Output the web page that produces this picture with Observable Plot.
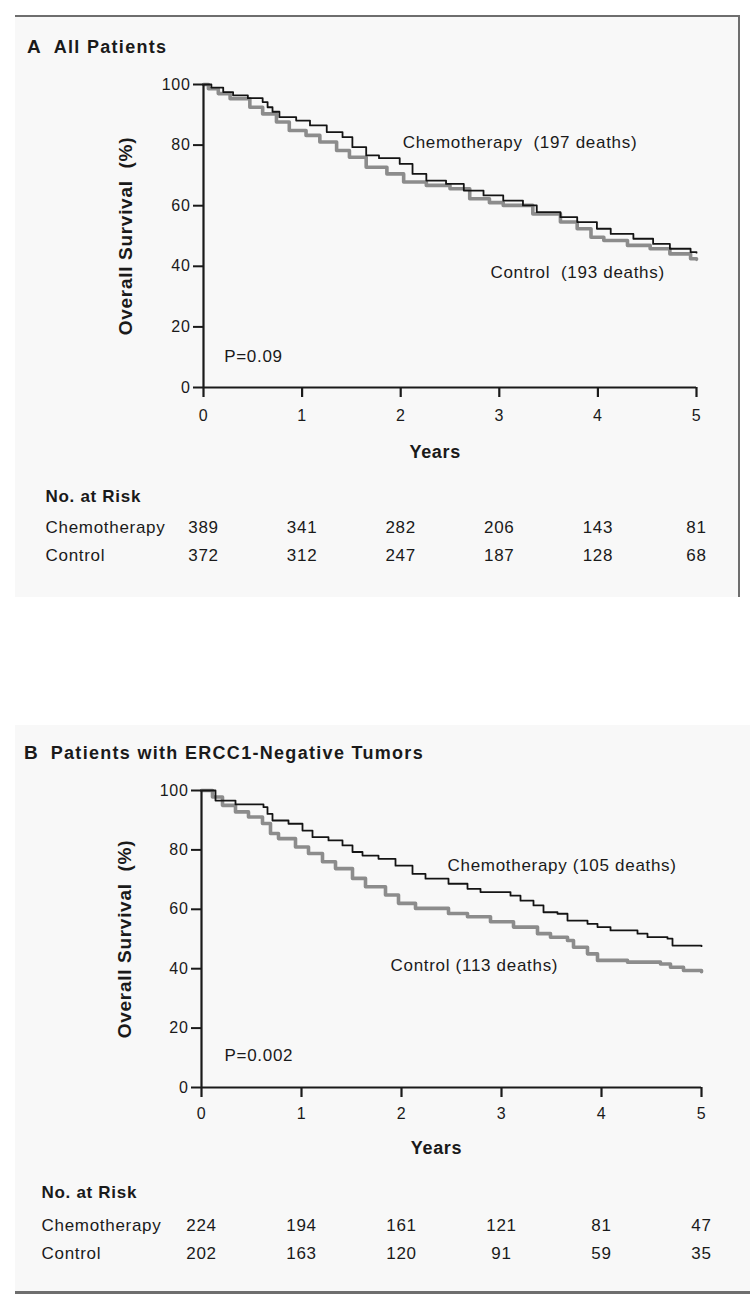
<!DOCTYPE html>
<html>
<head>
<meta charset="utf-8">
<script src="https://cdn.jsdelivr.net/npm/d3@7"></script>
<script src="https://cdn.jsdelivr.net/npm/@observablehq/plot@0.6"></script>
<style>
  body { margin: 0; background: #ffffff; font-family: "Liberation Sans", Arial, sans-serif; color: #1a1a1a; }
  #page { position: relative; width: 750px; height: 1307px; overflow: hidden; }
  .panel { position: absolute; background: #f8f8f8; }
  #panelA { left: 15px; top: 15px; width: 723px; height: 580px; border-top: 2px solid #6e6e6e; border-right: 2px solid #6e6e6e; }
  #panelB { left: 15px; top: 725px; width: 735px; height: 566px; border-bottom: 3px solid #6e6e6e; }
  .title { position: absolute; font-weight: bold; font-size: 18px; letter-spacing: 1.3px; line-height: 20px; white-space: nowrap; }
  .title .letter { display: inline-block; margin-right: 13px; font-size: 19px; letter-spacing: 0; }
  .panel svg { position: absolute; left: 0; top: 0; overflow: visible; }
</style>
</head>
<body>
<div id="page">
  <div class="panel" id="panelA"><div class="title" id="titleA" style="left:12px;top:20px;"></div></div>
  <div class="panel" id="panelB"><div class="title" id="titleB" style="left:9px;top:18px;"></div></div>
</div>
<script>
// ---------- Shared axis values ----------
const years = [0, 1, 2, 3, 4, 5];
const yTicks = [0, 20, 40, 60, 80, 100];
const groupNames = ["Chemotherapy", "Control"];

// ---------- Panel A: All Patients ----------
const aTitleLetter = "A";
const aTitle = "All Patients";
const aChemoT = [0, 0.08, 0.2, 0.3, 0.45, 0.6, 0.65, 0.7, 0.77, 0.94, 1.08, 1.25, 1.41, 1.51, 1.65, 1.78, 1.99, 2.12, 2.26, 2.46, 2.64, 2.84, 3.04, 3.24, 3.38, 3.62, 3.79, 3.99, 4.13, 4.36, 4.56, 4.73, 4.94, 5.0];
const aChemoS = [100, 99, 97.5, 96.4, 95.5, 94.2, 92.5, 91, 89.2, 88.1, 86.5, 84.3, 82.6, 79.3, 76.6, 75.7, 73.8, 70.5, 68.3, 67.2, 65, 63.4, 61.7, 60.1, 57.9, 56.2, 54.6, 52.4, 50.7, 49.1, 47.4, 45.8, 44.7, 44.5];
const aCtrlT = [0, 0.05, 0.15, 0.27, 0.47, 0.6, 0.74, 0.87, 1.04, 1.18, 1.35, 1.48, 1.65, 1.86, 2.03, 2.26, 2.5, 2.7, 2.9, 3.04, 3.34, 3.62, 3.79, 3.93, 4.06, 4.3, 4.53, 4.73, 4.94, 5.0];
const aCtrlS = [100, 98.6, 97, 95.3, 92.5, 90.3, 87.6, 84.8, 83.2, 81, 78.2, 76, 72.7, 70.5, 67.8, 66.7, 65.6, 62.3, 61, 60.1, 57.3, 54.6, 52.4, 49.6, 48.5, 46.9, 45.8, 44.1, 42.5, 42.3];
const aRiskChemo = [389, 341, 282, 206, 143, 81];
const aRiskCtrl = [372, 312, 247, 187, 128, 68];
const aChemoLabel = "Chemotherapy  (197 deaths)";
const aCtrlLabel = "Control  (193 deaths)";
const aPValue = "P=0.09";

// ---------- Panel B: ERCC1-negative tumors ----------
const bTitleLetter = "B";
const bTitle = "Patients with ERCC1-Negative Tumors";
const bChemoT = [0, 0.14, 0.34, 0.62, 0.66, 0.71, 0.87, 1.01, 1.11, 1.27, 1.41, 1.51, 1.61, 1.77, 1.94, 2.11, 2.24, 2.47, 2.66, 2.79, 3.09, 3.19, 3.32, 3.42, 3.56, 3.66, 3.86, 3.96, 4.09, 4.36, 4.46, 4.66, 4.71, 5.0];
const bChemoS = [100, 96.6, 95.3, 94.4, 92.1, 89.9, 88.8, 86.5, 84.3, 83.2, 81.5, 79.3, 78.1, 77, 74.7, 71.9, 70.3, 68.6, 66.9, 65.8, 64.6, 62.9, 61.3, 59, 58.5, 56.2, 55.1, 54, 52.9, 51.8, 50.6, 50.1, 47.8, 47.6];
const bCtrlT = [0, 0.11, 0.21, 0.34, 0.47, 0.61, 0.69, 0.77, 0.94, 1.07, 1.21, 1.34, 1.51, 1.64, 1.84, 1.97, 2.14, 2.47, 2.66, 2.89, 3.12, 3.36, 3.49, 3.66, 3.72, 3.86, 3.96, 4.26, 4.59, 4.69, 4.82, 5.0];
const bCtrlS = [100, 97.8, 95, 92.8, 91.1, 88.9, 85.5, 83.8, 81, 78.8, 76, 73.7, 70.4, 67.6, 64.8, 62, 60.3, 58.6, 57.5, 55.8, 54, 51.8, 50.6, 49.5, 47.2, 45, 42.8, 42.2, 41.6, 40.5, 39.4, 39];
const bRiskChemo = [224, 194, 161, 121, 81, 47];
const bRiskCtrl = [202, 163, 120, 91, 59, 35];
const bChemoLabel = "Chemotherapy (105 deaths)";
const bCtrlLabel = "Control (113 deaths)";
const bPValue = "P=0.002";

const yLabel = "Overall Survival  (%)";
const xLabel = "Years";
const riskHeader = "No. at Risk";

const FONT = "'Liberation Sans', Arial, sans-serif";
const INK = "#1a1a1a";

function makePanel(cfg) {
  const chemo = cfg.chemoT.map((t, i) => ({t, s: cfg.chemoS[i]}));
  const ctrl = cfg.ctrlT.map((t, i) => ({t, s: cfg.ctrlS[i]}));
  const riskC = years.map((y, i) => ({year: y, n: cfg.riskChemo[i]}));
  const riskK = years.map((y, i) => ({year: y, n: cfg.riskCtrl[i]}));
  const txt = {fontSize: 17, fill: INK, fontFamily: FONT};
  return Plot.plot({
    width: cfg.width,
    height: cfg.height,
    marginLeft: cfg.ml, marginRight: cfg.mr, marginTop: cfg.mt, marginBottom: cfg.mb,
    style: {background: "transparent", fontFamily: FONT, color: INK, overflow: "visible", letterSpacing: "0.7px"},
    x: {domain: [0, 5]},
    y: {domain: [0, 100]},
    marks: [
      Plot.line(ctrl, {x: "t", y: "s", curve: "step-after", stroke: "#8c8c8c", strokeWidth: 3.6}),
      Plot.line(chemo, {x: "t", y: "s", curve: "step-after", stroke: "#141414", strokeWidth: 1.8}),
      Plot.ruleX([0], {y1: 0, y2: 100, stroke: INK, strokeWidth: 2.2}),
      Plot.ruleY([0], {x1: 0, x2: 5, stroke: INK, strokeWidth: 2.2}),
      Plot.axisY({ticks: yTicks, tickSize: 10, tickPadding: 3, strokeWidth: 2, label: null, fontSize: 16, tickFormat: d => String(d)}),
      Plot.axisX({ticks: years, tickSize: 10, tickPadding: cfg.xTickPad, strokeWidth: 2.2, label: null, fontSize: 16, tickFormat: d => String(d)}),
      Plot.text([yLabel], {text: d => d, frameAnchor: "left", textAnchor: "middle", rotate: -90, dx: cfg.yLabelDx, fontWeight: "bold", fontSize: 19, fill: INK, style: "letter-spacing:1.9px"}),
      Plot.text([xLabel], {text: d => d, x: () => 2.35, frameAnchor: "bottom", dy: cfg.xLabelDy, fontWeight: "bold", fontSize: 18, fill: INK}),
      Plot.text([cfg.chemoLabel], {text: d => d, x: () => cfg.chemoLabelPos[0], y: () => cfg.chemoLabelPos[1], textAnchor: "start", ...txt}),
      Plot.text([cfg.ctrlLabel], {text: d => d, x: () => cfg.ctrlLabelPos[0], y: () => cfg.ctrlLabelPos[1], textAnchor: "start", ...txt}),
      Plot.text([cfg.pValue], {text: d => d, x: () => cfg.pPos[0], y: () => cfg.pPos[1], textAnchor: "start", ...txt}),
      Plot.text([riskHeader], {text: d => d, frameAnchor: "bottom-left", dx: cfg.rowDx, dy: cfg.riskDy[0], textAnchor: "start", fontWeight: "bold", fontSize: 17, fill: INK}),
      Plot.text([groupNames[0]], {text: d => d, frameAnchor: "bottom-left", dx: cfg.rowDx, dy: cfg.riskDy[1], textAnchor: "start", ...txt}),
      Plot.text([groupNames[1]], {text: d => d, frameAnchor: "bottom-left", dx: cfg.rowDx, dy: cfg.riskDy[2], textAnchor: "start", ...txt}),
      Plot.text(riskC, {x: "year", text: d => String(d.n), frameAnchor: "bottom", dy: cfg.riskDy[1], ...txt}),
      Plot.text(riskK, {x: "year", text: d => String(d.n), frameAnchor: "bottom", dy: cfg.riskDy[2], ...txt})
    ]
  });
}

function setTitle(id, letter, title) {
  const el = document.getElementById(id);
  const l = document.createElement("span");
  l.className = "letter";
  l.textContent = letter;
  el.appendChild(l);
  el.appendChild(document.createTextNode(title));
}

setTitle("titleA", aTitleLetter, aTitle);
setTitle("titleB", bTitleLetter, bTitle);

const plotA = makePanel({
  width: 723, height: 580, ml: 188, mr: 42, mt: 67, mb: 210,
  chemoT: aChemoT, chemoS: aChemoS, ctrlT: aCtrlT, ctrlS: aCtrlS,
  riskChemo: aRiskChemo, riskCtrl: aRiskCtrl,
  chemoLabel: aChemoLabel, ctrlLabel: aCtrlLabel, pValue: aPValue,
  chemoLabelPos: [2.02, 81], ctrlLabelPos: [2.91, 38], pPos: [0.21, 10.3],
  xTickPad: 12, yLabelDx: -78, xLabelDy: 70, rowDx: -158, riskDy: [114, 145, 173]
});
document.getElementById("panelA").appendChild(plotA);

const plotB = makePanel({
  width: 735, height: 566, ml: 186, mr: 49, mt: 65, mb: 204,
  chemoT: bChemoT, chemoS: bChemoS, ctrlT: bCtrlT, ctrlS: bCtrlS,
  riskChemo: bRiskChemo, riskCtrl: bRiskCtrl,
  chemoLabel: bChemoLabel, ctrlLabel: bCtrlLabel, pValue: bPValue,
  chemoLabelPos: [2.46, 74.7], ctrlLabelPos: [1.89, 41], pPos: [0.23, 10.8],
  xTickPad: 10, yLabelDx: -77, xLabelDy: 66, rowDx: -160, riskDy: [110, 143, 171]
});
document.getElementById("panelB").appendChild(plotB);
</script>
</body>
</html>
